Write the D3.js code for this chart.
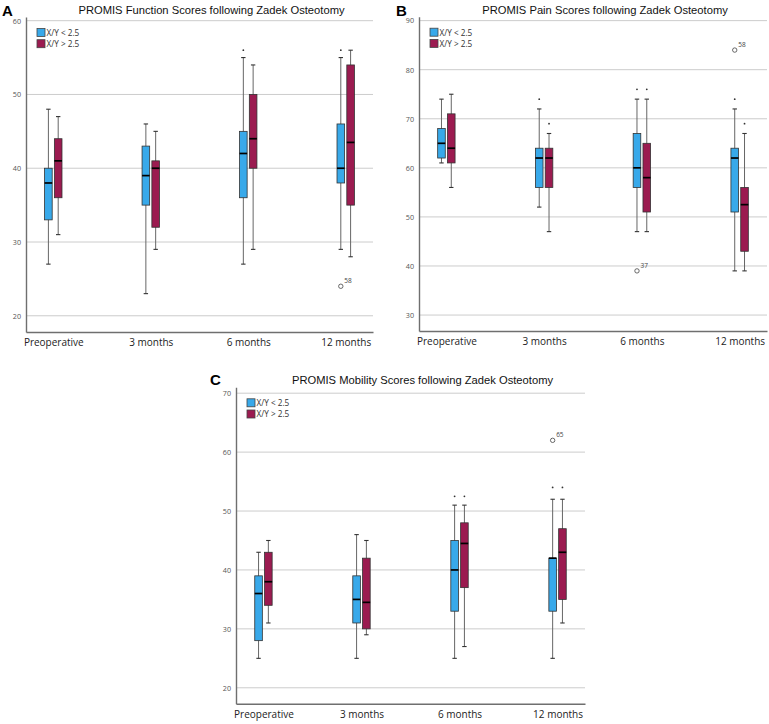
<!DOCTYPE html>
<html lang="en">
<head>
  <meta charset="UTF-8">
  <title>PROMIS scores following Zadek osteotomy</title>
  <script src="https://d3js.org/d3.v7.min.js"></script>
</head>
<body style="margin: 0; background: #fff;">

<script>
  //Time points and groups
  const timepoints = ['Preoperative', '3 months', '6 months', '12 months'];
  const groupNames = ['X/Y < 2.5', 'X/Y > 2.5'];

  //Five number summaries per time point: [min, q1, median, q3, max]
  const functionLow = [[27, 33, 38, 40, 48], [23, 35, 39, 43, 46], [27, 36, 42, 45, 55], [29, 38, 40, 46, 55]];
  const functionHigh = [[31, 36, 41, 44, 47], [29, 32, 40, 41, 45], [29, 40, 44, 50, 54], [28, 35, 43.5, 54, 56]];
  const functionOutliers = [{ time: '12 months', group: 0, value: 24, id: '58' }];
  const functionExtremes = [{ time: '6 months', group: 0, value: 56 }, { time: '12 months', group: 0, value: 56 }];
  const functionTicks = [20, 30, 40, 50, 60];

  const painLow = [[61, 62, 65, 68, 74], [52, 56, 62, 64, 72], [47, 56, 60, 67, 74], [39, 51, 62, 64, 72]];
  const painHigh = [[56, 61, 64, 71, 75], [47, 56, 62, 64, 67], [47, 51, 58, 65, 74], [39, 43, 52.5, 56, 67]];
  const painOutliers = [{ time: '6 months', group: 0, value: 39, id: '37' }, { time: '12 months', group: 0, value: 84, id: '58' }];
  const painExtremes = [
    { time: '3 months', group: 0, value: 74 }, { time: '3 months', group: 1, value: 69 },
    { time: '6 months', group: 0, value: 76 }, { time: '6 months', group: 1, value: 76 },
    { time: '12 months', group: 0, value: 74 }, { time: '12 months', group: 1, value: 69 }
  ];
  const painTicks = [30, 40, 50, 60, 70, 80, 90];

  const mobilityLow = [[25, 28, 36, 39, 43], [25, 31, 35, 39, 46], [25, 33, 40, 45, 51], [25, 33, 42, 42, 52]];
  const mobilityHigh = [[31, 34, 38, 43, 45], [29, 30, 34.5, 42, 45], [27, 37, 44.5, 48, 51], [31, 35, 43, 47, 52]];
  const mobilityOutliers = [{ time: '12 months', group: 0, value: 62, id: '65' }];
  const mobilityExtremes = [
    { time: '6 months', group: 0, value: 52.5 }, { time: '6 months', group: 1, value: 52.5 },
    { time: '12 months', group: 0, value: 54 }, { time: '12 months', group: 1, value: 54 }
  ];
  const mobilityTicks = [20, 30, 40, 50, 60, 70];

  const colors = ['#38a9ea', '#9b1b50'];

  //Panel layout
  const panels = [
    { letter: 'A', title: 'PROMIS Function Scores following Zadek Osteotomy',
      low: functionLow, high: functionHigh, outliers: functionOutliers, extremes: functionExtremes, ticks: functionTicks,
      domain: [17.8, 60.5], left: 26, right: 373, top: 17, bottom: 332, letterX: 2, letterY: 15.5 },
    { letter: 'B', title: 'PROMIS Pain Scores following Zadek Osteotomy',
      low: painLow, high: painHigh, outliers: painOutliers, extremes: painExtremes, ticks: painTicks,
      domain: [26.75, 90.8], left: 419, right: 767, top: 16.7, bottom: 331, letterX: 396, letterY: 15.5 },
    { letter: 'C', title: 'PROMIS Mobility Scores following Zadek Osteotomy',
      low: mobilityLow, high: mobilityHigh, outliers: mobilityOutliers, extremes: mobilityExtremes, ticks: mobilityTicks,
      domain: [17.3, 71], left: 236, right: 585, top: 387.3, bottom: 703.7, letterX: 210, letterY: 384.5 }
  ];

  const svg = d3.select('body').append('svg')
    .attr('width', 769)
    .attr('height', 724);

  const boxWidth = 7.6;
  const groupOffset = 4.9;

  function drawPanel(p) {
    const x = d3.scalePoint().domain(timepoints).range([p.left, p.right]).padding(0.28);
    const y = d3.scaleLinear().domain(p.domain).range([p.bottom, p.top]);
    const cx = (time, gi) => x(time) + (gi === 0 ? -groupOffset : groupOffset);
    const g = svg.append('g');

    //Panel letter and title
    g.append('text')
      .attr('x', p.letterX)
      .attr('y', p.letterY)
      .attr('font-family', 'Liberation Sans, Arial, sans-serif')
      .attr('font-weight', 'bold')
      .attr('font-size', 15)
      .attr('fill', '#000')
      .text(p.letter);

    g.append('text')
      .attr('x', (p.left + p.right) / 2 + 12)
      .attr('y', p.top - 3)
      .attr('text-anchor', 'middle')
      .attr('font-family', 'Liberation Sans, Arial, sans-serif')
      .attr('font-size', 11.2)
      .attr('fill', '#111')
      .text(p.title);

    //Gridlines
    g.selectAll('.grid')
      .data(p.ticks)
      .join('line')
      .attr('class', 'grid')
      .attr('x1', p.left)
      .attr('x2', p.right)
      .attr('y1', d => y(d))
      .attr('y2', d => y(d))
      .attr('stroke', '#cccccc')
      .attr('stroke-width', 1);

    //Axes
    const yAxis = g.append('g')
      .attr('transform', `translate(${p.left},0)`)
      .call(d3.axisLeft(y).tickValues(p.ticks).tickSize(0).tickPadding(5));
    yAxis.select('.domain').attr('stroke', '#6f6f6f').attr('stroke-width', 1.4);
    yAxis.selectAll('text')
      .attr('font-family', 'Open Sans, sans-serif')
      .attr('font-size', 7.2)
      .attr('fill', '#555');

    const xAxis = g.append('g')
      .attr('transform', `translate(0,${p.bottom})`)
      .call(d3.axisBottom(x).tickSize(0).tickPadding(7));
    xAxis.select('.domain').attr('stroke', '#6f6f6f').attr('stroke-width', 1.4);
    xAxis.selectAll('text')
      .attr('font-family', 'Open Sans, sans-serif')
      .attr('font-size', 10)
      .attr('fill', '#222');

    //Boxes
    [p.low, p.high].forEach((series, gi) => {
      const boxes = series.map((s, i) => ({ time: timepoints[i], min: s[0], q1: s[1], med: s[2], q3: s[3], max: s[4] }));
      const bg = g.append('g');

      //Whiskers
      bg.selectAll('.whisker')
        .data(boxes)
        .join('line')
        .attr('x1', d => cx(d.time, gi))
        .attr('x2', d => cx(d.time, gi))
        .attr('y1', d => y(d.min))
        .attr('y2', d => y(d.max))
        .attr('stroke', '#666')
        .attr('stroke-width', 1);

      //Whisker caps
      ['min', 'max'].forEach(k => {
        bg.selectAll('.cap-' + k)
          .data(boxes)
          .join('line')
          .attr('x1', d => cx(d.time, gi) - 2.2)
          .attr('x2', d => cx(d.time, gi) + 2.2)
          .attr('y1', d => y(d[k]))
          .attr('y2', d => y(d[k]))
          .attr('stroke', '#333')
          .attr('stroke-width', 1.1);
      });

      bg.selectAll('.box')
        .data(boxes)
        .join('rect')
        .attr('x', d => cx(d.time, gi) - boxWidth / 2)
        .attr('y', d => y(d.q3))
        .attr('width', boxWidth)
        .attr('height', d => y(d.q1) - y(d.q3))
        .attr('fill', colors[gi])
        .attr('stroke', '#333')
        .attr('stroke-width', 0.8);

      bg.selectAll('.median')
        .data(boxes)
        .join('line')
        .attr('x1', d => cx(d.time, gi) - boxWidth / 2)
        .attr('x2', d => cx(d.time, gi) + boxWidth / 2)
        .attr('y1', d => y(d.med))
        .attr('y2', d => y(d.med))
        .attr('stroke', '#000')
        .attr('stroke-width', 1.7);
    });

    //Outliers (circles) with case numbers
    g.selectAll('.outlier')
      .data(p.outliers)
      .join('circle')
      .attr('cx', d => cx(d.time, d.group))
      .attr('cy', d => y(d.value))
      .attr('r', 2.2)
      .attr('fill', '#fff')
      .attr('stroke', '#444')
      .attr('stroke-width', 0.8);

    g.selectAll('.outlier-label')
      .data(p.outliers)
      .join('text')
      .attr('x', d => cx(d.time, d.group) + 3.5)
      .attr('y', d => y(d.value) - 3)
      .attr('font-family', 'Open Sans, sans-serif')
      .attr('font-size', 6.5)
      .attr('fill', '#444')
      .text(d => d.id);

    //Extreme values (small stars)
    g.selectAll('.extreme')
      .data(p.extremes)
      .join('circle')
      .attr('cx', d => cx(d.time, d.group))
      .attr('cy', d => y(d.value))
      .attr('r', 0.9)
      .attr('fill', '#333');

    //Legend
    const legend = g.append('g')
      .attr('transform', `translate(${p.left + 11},${p.top + 11.5})`);
    groupNames.forEach((name, gi) => {
      legend.append('rect')
        .attr('x', 0)
        .attr('y', gi * 11.2)
        .attr('width', 8)
        .attr('height', 8)
        .attr('fill', colors[gi])
        .attr('stroke', '#444')
        .attr('stroke-width', 0.8);
      legend.append('text')
        .attr('x', 9.5)
        .attr('y', gi * 11.2 + 7.3)
        .attr('font-family', 'Open Sans, sans-serif')
        .attr('font-size', 8.2)
        .attr('fill', '#333')
        .text(name);
    });
  }

  panels.forEach(drawPanel);
</script>

</body>
</html>
